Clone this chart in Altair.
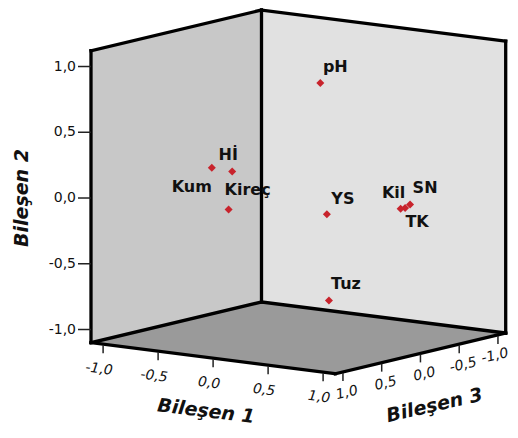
import altair as alt
import numpy as np
import pandas as pd

# ---------------- data (component loadings) ----------------
variables = ["pH", "Hİ", "Kum", "Kireç", "YS", "Kil", "TK", "SN", "Tuz"]
bilesen_1 = [0.27, -0.70, -0.85, -0.50, 0.40, 0.93, 0.90, 0.91, 0.56]
bilesen_2 = [0.88, 0.07, 0.09, -0.15, -0.09, -0.02, -0.03, -0.01, -0.70]
bilesen_3 = [0.10, -0.14, -0.09, 0.19, 0.20, 0.00, -0.10, -0.15, 0.40]

tick_values = [-1.0, -0.5, 0.0, 0.5, 1.0]
tick_labels = ["-1,0", "-0,5", "0,0", "0,5", "1,0"]
axis_titles = ["Bileşen 1", "Bileşen 2", "Bileşen 3"]
range_1 = [-1.11, 1.11]
range_2 = [-1.10, 1.12]
range_3 = [-1.10, 1.10]

# ---------------- view: oblique projection of the 3-D box into page pixels ----------------
ORIGIN = (298.35, 193.2)
E1 = (110.0, 14.0)
E2 = (0.0, -131.5)
E3 = (-77.5, 18.5)


def project(a, b, c):
    return (ORIGIN[0] + a * E1[0] + b * E2[0] + c * E3[0],
            ORIGIN[1] + a * E1[1] + b * E2[1] + c * E3[1])


# label offsets (pixels) relative to each marker
label_offset = {
    "pH": (15, -16), "Hİ": (-4, -17), "Kum": (-20, 19), "Kireç": (19, -19),
    "YS": (16, -15), "Kil": (-7, -16), "TK": (12, 14), "SN": (15, -16), "Tuz": (17, -16),
}

lo1, hi1 = range_1
lo2, hi2 = range_2
lo3, hi3 = range_3
L = project(lo1, lo2, hi3)
B = project(lo1, lo2, lo3)
R = project(hi1, lo2, lo3)
F = project(hi1, lo2, hi3)
LT = project(lo1, hi2, hi3)
BT = project(lo1, hi2, lo3)
RT = project(hi1, hi2, lo3)

# faces
face_rows = []
for name, fill, (b0, b1), (t0, t1) in [
    ("left", "#c8c8c8", (L, B), (LT, BT)),
    ("right", "#e1e1e1", (B, R), (BT, RT)),
]:
    face_rows.append(dict(face=name, fill=fill, x=b0[0], top=t0[1], bottom=b0[1]))
    face_rows.append(dict(face=name, fill=fill, x=b1[0], top=t1[1], bottom=b1[1]))
xs = sorted([L[0], B[0], F[0], R[0]])
tops = np.interp(xs, [L[0], B[0], R[0]], [L[1], B[1], R[1]])
bots = np.interp(xs, [L[0], F[0], R[0]], [L[1], F[1], R[1]])
for x, t, b in zip(xs, tops, bots):
    face_rows.append(dict(face="floor", fill="#9a9a9a", x=x, top=t, bottom=b))
faces = pd.DataFrame(face_rows)

edges = pd.DataFrame([
    dict(x=p[0], y=p[1], x2=q[0], y2=q[1])
    for p, q in [(L, LT), (B, BT), (R, RT), (LT, BT), (BT, RT), (L, B), (B, R), (L, F), (F, R)]
])

# ticks and tick labels
tick_rows, lab1, lab2, lab3 = [], [], [], []
for v, t in zip(tick_values, tick_labels):
    p = project(v, lo2, hi3)
    tick_rows.append(dict(x=p[0], y=p[1] + 1, x2=p[0], y2=p[1] + 9))
    lab1.append(dict(x=p[0] - 4, y=p[1] + 25, text=t))
    p = project(hi1, lo2, v)
    tick_rows.append(dict(x=p[0], y=p[1] + 1, x2=p[0], y2=p[1] + 9))
    lab3.append(dict(x=min(p[0] + 4, 495), y=p[1] + 21, text=t))
    p = project(lo1, v, hi3)
    tick_rows.append(dict(x=p[0] - 13, y=p[1], x2=p[0], y2=p[1]))
    lab2.append(dict(x=p[0] - 15, y=p[1], text=t))
ticks = pd.DataFrame(tick_rows)

pts = []
for n, a, b, c in zip(variables, bilesen_1, bilesen_2, bilesen_3):
    x, y = project(a, b, c)
    dx, dy = label_offset[n]
    pts.append(dict(name=n, x=x, y=y, lx=x + dx, ly=y + dy))
points = pd.DataFrame(pts)

# axis titles
t1 = project(0.0, lo2, hi3)
t3 = project(hi1, lo2, 0.0)
t2 = project(lo1, 0.0, hi3)
titles1 = pd.DataFrame([dict(x=t1[0] - 7, y=t1[1] + 53, text=axis_titles[0])])
titles3 = pd.DataFrame([dict(x=t3[0] + 14, y=t3[1] + 52, text=axis_titles[2])])
titles2 = pd.DataFrame([dict(x=t2[0] - 69, y=t2[1], text=axis_titles[1])])

XS = alt.Scale(domain=[8, 510], nice=False, zero=False)
YS = alt.Scale(domain=[8, 430], nice=False, zero=False, reverse=True)


def X(f):
    return alt.X(f, type="quantitative", scale=XS, axis=None)


def Y(f):
    return alt.Y(f, type="quantitative", scale=YS, axis=None)


face_layer = alt.Chart(faces).mark_area(opacity=1, interpolate="linear").encode(
    x=X("x"), y=Y("top"), y2=alt.Y2("bottom"),
    color=alt.Color("fill:N", scale=None), detail="face:N",
)
edge_layer = alt.Chart(edges).mark_rule(color="black", strokeWidth=3.3, strokeCap="square").encode(
    x=X("x"), y=Y("y"), x2=alt.X2("x2"), y2=alt.Y2("y2")
)
tick_layer = alt.Chart(ticks).mark_rule(color="#222222", strokeWidth=1.5).encode(
    x=X("x"), y=Y("y"), x2=alt.X2("x2"), y2=alt.Y2("y2")
)
font = "DejaVu Sans"
lab1_layer = alt.Chart(pd.DataFrame(lab1)).mark_text(
    font=font, fontSize=14, fontStyle="italic", angle=7, align="center", baseline="middle", color="#111111"
).encode(x=X("x"), y=Y("y"), text="text:N")
lab3_layer = alt.Chart(pd.DataFrame(lab3)).mark_text(
    font=font, fontSize=14, fontStyle="italic", angle=347, align="center", baseline="middle", color="#111111"
).encode(x=X("x"), y=Y("y"), text="text:N")
lab2_layer = alt.Chart(pd.DataFrame(lab2)).mark_text(
    font=font, fontSize=14, align="right", baseline="middle", color="#111111"
).encode(x=X("x"), y=Y("y"), text="text:N")

title1_layer = alt.Chart(titles1).mark_text(
    font=font, fontSize=19, fontWeight="bold", fontStyle="italic", angle=7, align="center", baseline="middle", color="#111111"
).encode(x=X("x"), y=Y("y"), text="text:N")
title3_layer = alt.Chart(titles3).mark_text(
    font=font, fontSize=19, fontWeight="bold", fontStyle="italic", angle=347, align="center", baseline="middle", color="#111111"
).encode(x=X("x"), y=Y("y"), text="text:N")
title2_layer = alt.Chart(titles2).mark_text(
    font=font, fontSize=19, fontWeight="bold", fontStyle="italic", angle=270, align="center", baseline="middle", color="#111111"
).encode(x=X("x"), y=Y("y"), text="text:N")

point_layer = alt.Chart(points).mark_point(
    shape="diamond", filled=True, size=64, color="#c8232c", opacity=1
).encode(x=X("x"), y=Y("y"))
label_layer = alt.Chart(points).mark_text(
    font=font, fontSize=16, fontWeight="bold", align="center", baseline="middle", color="#111111"
).encode(x=X("lx"), y=Y("ly"), text="name:N")

chart = alt.layer(
    face_layer, edge_layer, tick_layer, lab1_layer, lab2_layer, lab3_layer,
    title1_layer, title2_layer, title3_layer, point_layer, label_layer,
).properties(
    width=502, height=422, autosize=alt.AutoSizeParams(type="none"), padding=0
).configure_view(stroke=None)

chart.save("out.html", embed_options={"renderer": "svg", "actions": False})
